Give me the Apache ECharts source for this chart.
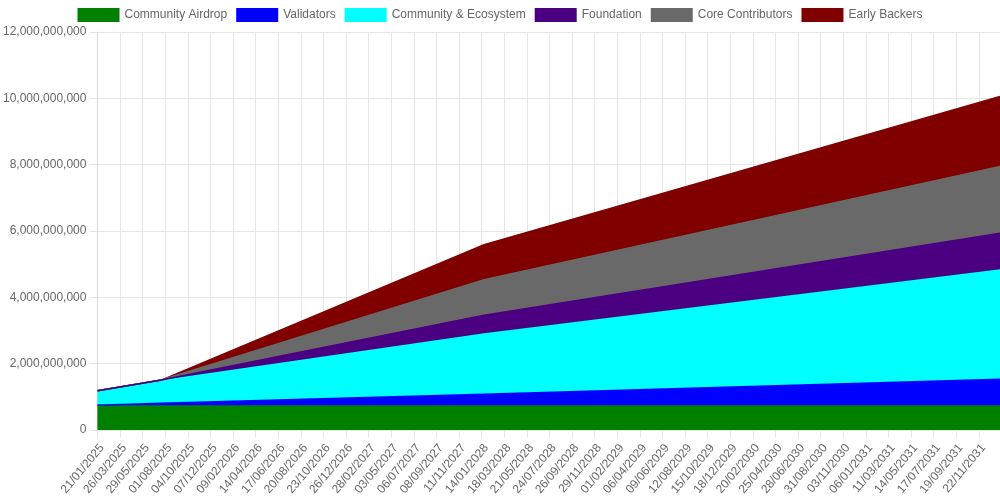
<!DOCTYPE html>
<html>
<head>
<meta charset="utf-8">
<script src="https://cdn.jsdelivr.net/npm/echarts@6/dist/echarts.min.js"></script>
<style>
html, body { margin: 0; padding: 0; background: #fff; }
#chart { width: 1000px; height: 500px; }
</style>
</head>
<body>
<div id="chart"></div>
<script>
// unlock schedule (tokens)
var dates = ['21/01/2025', '21/07/2025', '21/01/2028', '21/01/2032'];
var airdrop = [750000000, 750000000, 750000000, 750000000];
var validators = [0, 55000000, 330000000, 780000000];
var ecosystem = [430000000, 700000000, 1840000000, 3320000000];
var foundation = [0, 0, 540000000, 1085000000];
var core = [0, 0, 1070000000, 2010000000];
var backers = [0, 0, 1060000000, 2110000000];

var names = ['Community Airdrop', 'Validators', 'Community & Ecosystem', 'Foundation', 'Core Contributors', 'Early Backers'];
var colors = ['#008000', '#0000ff', '#00ffff', '#4b0082', '#696969', '#800000'];
var values = [airdrop, validators, ecosystem, foundation, core, backers];
// foundation's edge sits on top of the others before the cliff
var layer = [2, 3, 2, 6, 5, 4];

var tickLabels = ['21/01/2025', '26/03/2025', '29/05/2025', '01/08/2025', '04/10/2025', '07/12/2025',
    '09/02/2026', '14/04/2026', '17/06/2026', '20/08/2026', '23/10/2026', '26/12/2026',
    '28/02/2027', '03/05/2027', '06/07/2027', '08/09/2027', '11/11/2027', '14/01/2028',
    '18/03/2028', '21/05/2028', '24/07/2028', '26/09/2028', '29/11/2028', '01/02/2029',
    '06/04/2029', '09/06/2029', '12/08/2029', '15/10/2029', '18/12/2029', '20/02/2030',
    '25/04/2030', '28/06/2030', '31/08/2030', '03/11/2030', '06/01/2031', '11/03/2031',
    '14/05/2031', '17/07/2031', '19/09/2031', '22/11/2031'];

function parseDate(s) {
    var p = s.split('/');
    return Date.UTC(+p[2], +p[1] - 1, +p[0]);
}

var tMin = parseDate(dates[0]);
var tMax = parseDate(dates[dates.length - 1]);
var tickTimes = tickLabels.map(parseDate);
var labelOf = {};
tickTimes.forEach(function (t, i) { labelOf[t] = tickLabels[i]; });

var font = 'Liberation Sans, Arial, sans-serif';
var gridColor = '#e6e6e6';

// series sit on a time axis (so stacking works); a second, bare value axis
// on the same span carries the dd/mm/yyyy ticks, labels and grid lines
var series = names.map(function (name, i) {
    return {
        name: name,
        type: 'line',
        stack: 'total',
        xAxisIndex: 0,
        z: layer[i],
        showSymbol: false,
        lineStyle: { color: colors[i], width: 1.5 },
        itemStyle: { color: colors[i] },
        areaStyle: { color: colors[i], opacity: 1 },
        data: dates.map(function (d, k) { return [parseDate(d), values[i][k]]; })
    };
});

var chart = echarts.init(document.getElementById('chart'));
chart.setOption({
    animation: false,
    color: colors,
    textStyle: { fontFamily: font },
    legend: {
        top: 8,
        left: 'center',
        padding: 0,
        itemWidth: 42,
        itemHeight: 14,
        itemGap: 9,
        icon: 'rect',
        textStyle: { color: '#666', fontSize: 12, fontFamily: font },
        data: names
    },
    grid: { left: 97, right: 0, top: 32, bottom: 70 },
    xAxis: [{
        type: 'time',
        min: tMin,
        max: tMax,
        axisLine: { show: false },
        axisTick: { show: false },
        axisLabel: { show: false },
        splitLine: { show: false }
    }, {
        type: 'value',
        position: 'bottom',
        min: tMin,
        max: tMax,
        axisLine: { show: false },
        axisTick: { show: true, length: 8, customValues: tickTimes, lineStyle: { color: gridColor } },
        splitLine: { show: true, lineStyle: { color: gridColor } },
        axisLabel: {
            customValues: tickTimes,
            rotate: 50,
            margin: 12,
            verticalAlign: 'top',
            color: '#666',
            fontSize: 12,
            fontFamily: font,
            hideOverlap: false,
            formatter: function (v) { return labelOf[v] || ''; }
        }
    }],
    yAxis: {
        type: 'value',
        min: 0,
        max: 12000000000,
        interval: 2000000000,
        axisLine: { show: true, lineStyle: { color: '#d9d9d9' } },
        axisTick: { show: true, length: 8, lineStyle: { color: gridColor } },
        splitLine: { lineStyle: { color: gridColor } },
        axisLabel: {
            margin: 11,
            color: '#666',
            fontSize: 12,
            fontFamily: font,
            formatter: function (v) { return v.toLocaleString('en-US'); }
        }
    },
    series: series
});
</script>
</body>
</html>
